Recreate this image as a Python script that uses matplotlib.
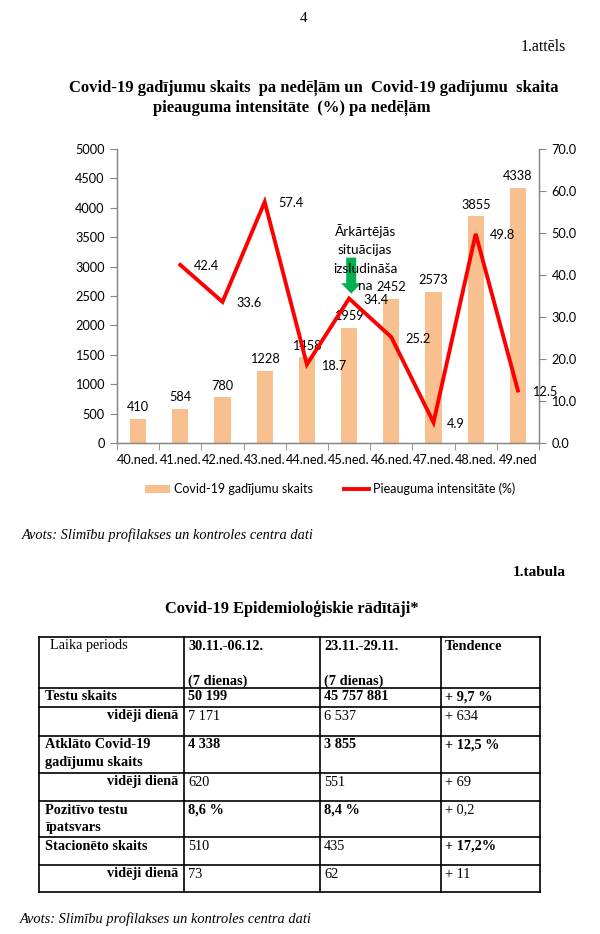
import numpy as np
import matplotlib
matplotlib.use("Agg")
import matplotlib.pyplot as plt
from matplotlib.lines import Line2D
from matplotlib.patches import Patch

# ---------------- data ----------------
weeks = ["40.ned.", "41.ned.", "42.ned.", "43.ned.", "44.ned.", "45.ned.",
         "46.ned.", "47.ned.", "48.ned.", "49.ned"]
cases = [410, 584, 780, 1228, 1458, 1959, 2452, 2573, 3855, 4338]
growth_weeks = weeks[1:]
growth = [42.4, 33.6, 57.4, 18.7, 34.4, 25.2, 4.9, 49.8, 12.5]
left_ticks = list(range(0, 5001, 500))
right_ticks = list(range(0, 71, 10))
note_lines = ["Ārkārtējās", "situācijas", "izsludināša", "na"]
note_week = "45.ned."

bar_label = "Covid-19 gadījumu skaits"
line_label = "Pieauguma intensitāte (%)"

row_labels = ["Laika periods", "Testu skaits", "vidēji dienā",
              "Atklāto Covid-19\ngadījumu skaits", "vidēji dienā",
              "Pozitīvo testu\nīpatsvars", "Stacionēto skaits", "vidēji dienā"]
col_current = ["30.11.-06.12.\n\n(7 dienas)", "50 199", "7 171", "4 338", "620",
               "8,6 %", "510", "73"]
col_previous = ["23.11.-29.11.\n\n(7 dienas)", "45 757 881", "6 537", "3 855", "551",
                "8,4 %", "435", "62"]
col_trend = ["Tendence", "+ 9,7 %", "+ 634", "+ 12,5 %", "+ 69", "+ 0,2",
             "+ 17,2%", "+ 11"]
bold_label = [False, True, True, True, True, True, True, True]
bold_cur = [True, True, False, True, False, True, False, False]
bold_prev = [True, True, False, True, False, True, False, False]
bold_trend = [True, True, False, True, False, False, True, False]
sub_rows = [2, 4, 7]

# ---------------- figure ----------------
W, H = 600, 934
fig = plt.figure(figsize=(W / 100, H / 100), dpi=100)
fig.patch.set_facecolor("white")

SERIF = ["Liberation Serif", "DejaVu Serif"]
SANS = ["Lato", "DejaVu Sans"]

# page overlay in pixel coordinates
pg = fig.add_axes([0, 0, 1, 1])
pg.set_xlim(0, W)
pg.set_ylim(H, 0)
pg.axis("off")

pg.text(304, 18, "4", family=SERIF, fontsize=11, ha="center", va="center")
pg.text(566, 47, "1.attēls", family=SERIF, fontsize=11.5, ha="right", va="center")
pg.text(314, 88, "Covid-19 gadījumu skaits  pa nedēļām un  Covid-19 gadījumu  skaita",
        family=SERIF, fontsize=12, weight="bold", ha="center", va="center")
pg.text(292, 108, "pieauguma intensitāte  (%) pa nedēļām",
        family=SERIF, fontsize=12, weight="bold", ha="center", va="center")
pg.text(22, 535, "Avots: Slimību profilakses un kontroles centra dati",
        family=SERIF, fontsize=10.4, style="italic", ha="left", va="center")
pg.text(566, 573, "1.tabula", family=SERIF, fontsize=11, weight="bold",
        ha="right", va="center")
pg.text(292, 609, "Covid-19 Epidemioloģiskie rādītāji*", family=SERIF,
        fontsize=11.8, weight="bold", ha="center", va="center")
pg.text(20, 919, "Avots: Slimību profilakses un kontroles centra dati",
        family=SERIF, fontsize=10.4, style="italic", ha="left", va="center")

# table layout
col_x = [39, 184, 320, 441, 540]
row_y = [637, 688, 707, 736, 773, 801, 837, 865, 892]
for xx in col_x:
    pg.plot([xx, xx], [row_y[0], row_y[-1]], color="black", lw=1.2,
            solid_capstyle="projecting")
for yy in row_y:
    pg.plot([col_x[0], col_x[-1]], [yy, yy], color="black", lw=1.2,
            solid_capstyle="projecting")

TFS = 10.3
LS = 1.42
columns = [(col_current, bold_cur), (col_previous, bold_prev), (col_trend, bold_trend)]
for r in range(len(row_labels)):
    ytop = row_y[r] + 2.5
    lab = row_labels[r]
    w = "bold" if bold_label[r] else "normal"
    if r in sub_rows:
        pg.text(col_x[1] - 6, ytop, lab, family=SERIF, fontsize=TFS, weight=w,
                ha="right", va="top", linespacing=LS)
    else:
        xoff = 11 if r == 0 else 6
        pg.text(col_x[0] + xoff, ytop, lab, family=SERIF, fontsize=TFS, weight=w,
                ha="left", va="top", linespacing=LS)
    for c, (vals, bolds) in enumerate(columns):
        pg.text(col_x[c + 1] + 4, ytop, vals[r], family=SERIF, fontsize=TFS,
                weight="bold" if bolds[r] else "normal", ha="left", va="top",
                linespacing=LS)

# ---------------- chart ----------------
ax = fig.add_axes([117 / W, 1 - 443 / H, 422 / W, 294 / H])
x = np.arange(len(weeks))
ax.bar(x, cases, width=0.38, color="#F9C08F", zorder=2)
ax.set_xlim(-0.5, len(weeks) - 0.5)
ax.set_ylim(0, 5000)
ax.set_yticks(left_ticks)
ax.set_xticks(x)
ax.set_xticklabels(weeks)
ax.set_xticks(np.arange(-0.5, len(weeks), 1), minor=True)
ax.tick_params(axis="x", which="major", length=0, pad=8)
ax.tick_params(axis="x", which="minor", length=5, color="#868686", direction="out")
ax.tick_params(axis="y", length=5, color="#868686", direction="out", pad=4)
for lab in ax.get_xticklabels() + ax.get_yticklabels():
    lab.set_family(SANS)
    lab.set_fontsize(9.2)
ax.spines["top"].set_visible(False)
for s in ["left", "bottom", "right"]:
    ax.spines[s].set_color("#868686")
    ax.spines[s].set_linewidth(1.0)

for xi, v in zip(x, cases):
    ax.annotate(str(v), (xi, v), xytext=(0, 4), textcoords="offset points",
                ha="center", va="bottom", family=SANS, fontsize=9.2)

ax2 = ax.twinx()
ax2.set_ylim(0, 70)
ax2.set_yticks(right_ticks)
ax2.set_yticklabels([f"{t:.1f}" for t in right_ticks])
ax2.tick_params(axis="y", length=5, color="#868686", direction="out", pad=4)
for lab in ax2.get_yticklabels():
    lab.set_family(SANS)
    lab.set_fontsize(9.2)
ax2.spines["top"].set_visible(False)
for s in ["left", "bottom", "right"]:
    ax2.spines[s].set_color("#868686")

gx = np.array([weeks.index(w) for w in growth_weeks])
ax2.plot(gx, growth, color="#FF0000", lw=2.8, solid_joinstyle="miter", zorder=3)
for xi, g in zip(gx, growth):
    ax2.annotate(f"{g:.1f}", (xi, g), xytext=(10, -1), textcoords="offset points",
                 ha="left", va="center", family=SANS, fontsize=9.2)

nx = weeks.index(note_week)
ax2.annotate("", xy=(nx + 0.05, 34.9), xytext=(nx + 0.05, 44.8),
             arrowprops=dict(arrowstyle="simple,head_length=0.75,head_width=1.45,tail_width=0.72",
                             color="#00B050", lw=0, mutation_scale=10), zorder=4)
for i, line in enumerate(note_lines):
    step = 13.2 if i < 3 else 12.4
    ax2.annotate(line, (nx + 0.38, 49.3), xytext=(0, -13.2 * min(i, 2) - (12.4 if i == 3 else 0)),
                 textcoords="offset points", ha="center", va="baseline",
                 family=SANS, fontsize=9.8, zorder=5)

handles = [Patch(facecolor="#F9C08F", edgecolor="none"),
           Line2D([0], [0], color="#FF0000", lw=2.8)]
fig.legend(handles, [bar_label, line_label], loc="center",
           bbox_to_anchor=(330 / W, 1 - 489 / H), ncol=2, frameon=False,
           prop=dict(family=SANS, size=9), handlelength=2.0,
           handleheight=0.6, columnspacing=2.5, handletextpad=0.3)

fig.savefig("out.png", dpi=100, facecolor="white")
